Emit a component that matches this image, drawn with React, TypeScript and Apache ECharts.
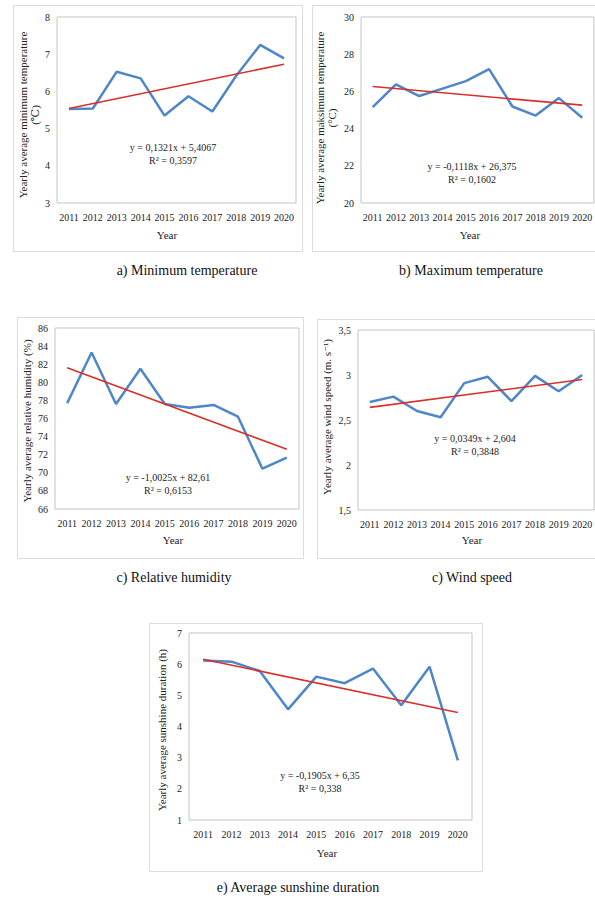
import React, { useEffect, useRef } from "react";
import * as echarts from "echarts";

const years = ["2011", "2012", "2013", "2014", "2015", "2016", "2017", "2018", "2019", "2020"];

const minTemp = [5.53, 5.54, 6.53, 6.35, 5.35, 5.87, 5.46, 6.42, 7.25, 6.89];
const maxTemp = [25.15, 26.38, 25.75, 26.15, 26.55, 27.2, 25.19, 24.7, 25.64, 24.58];
const humidity = [77.7, 83.3, 77.6, 81.5, 77.6, 77.2, 77.5, 76.2, 70.45, 71.67];
const wind = [2.7, 2.76, 2.6, 2.53, 2.91, 2.98, 2.71, 2.99, 2.82, 3.0];
const sunshine = [6.12, 6.08, 5.78, 4.55, 5.6, 5.39, 5.86, 4.68, 5.92, 2.91];

// trend line end values (2011, 2020)
const minTrend = [5.54, 6.73];
const maxTrend = [26.26, 25.26];
const humTrend = [81.6, 72.6];
const windTrend = [2.64, 2.95];
const sunTrend = [6.16, 4.45];

const FONT = "'Liberation Serif', 'Times New Roman', 'DejaVu Serif', serif";
const BLUE = "#4f86c9";
const RED = "#d8302a";

type Panel = {
  data: number[];
  trend: number[];
  min: number;
  max: number;
  interval: number;
  grid: { left: number; top: number; width: number; height: number };
  border: { x: number; y: number; w: number; h: number };
  yTitle: string[];
  yTitleX: number[];
  yTitleY: number;
  yearPos: [number, number];
  eq: string[];
  eqPos: [number, number];
  caption: string;
  capPos: [number, number];
};

const panels: Panel[] = [
  {
    data: minTemp, trend: minTrend, min: 3, max: 8, interval: 1,
    grid: { left: 57, top: 17, width: 239, height: 186 },
    border: { x: 13.5, y: 5.5, w: 289, h: 246 },
    yTitle: ["Yearly average minimum temperature", "(\u2103)"], yTitleX: [23, 35], yTitleY: 115,
    yearPos: [167, 235],
    eq: ["y = 0,1321x + 5,4067", "R\u00b2 = 0,3597"], eqPos: [173, 147],
    caption: "a) Minimum temperature", capPos: [187, 270],
  },
  {
    data: maxTemp, trend: maxTrend, min: 20, max: 30, interval: 2,
    grid: { left: 361, top: 17, width: 238, height: 186 },
    border: { x: 312.5, y: 5.5, w: 300, h: 246 },
    yTitle: ["Yearly average maksimum temperature", "(\u00b0C)"], yTitleX: [320, 332], yTitleY: 118,
    yearPos: [470, 235],
    eq: ["y = -0,1118x + 26,375", "R\u00b2 = 0,1602"], eqPos: [472, 166],
    caption: "b) Maximum temperature", capPos: [471, 270],
  },
  {
    data: humidity, trend: humTrend, min: 66, max: 86, interval: 2,
    grid: { left: 55, top: 328, width: 244, height: 181 },
    border: { x: 17.5, y: 317.5, w: 286, h: 241 },
    yTitle: ["Yearly average relative humidity (%)"], yTitleX: [27], yTitleY: 421,
    yearPos: [173, 540],
    eq: ["y = -1,0025x + 82,61", "R\u00b2 = 0,6153"], eqPos: [168, 477],
    caption: "c) Relative humidity", capPos: [174, 577],
  },
  {
    data: wind, trend: windTrend, min: 1.5, max: 3.5, interval: 0.5,
    grid: { left: 358, top: 330, width: 241, height: 180 },
    border: { x: 317.5, y: 319.5, w: 300, h: 239 },
    yTitle: ["Yearly average wind speed (m. s\u207b\u00b9)"], yTitleX: [327], yTitleY: 417,
    yearPos: [472, 540],
    eq: ["y = 0,0349x + 2,604", "R\u00b2 = 0,3848"], eqPos: [475, 438],
    caption: "c) Wind speed", capPos: [472, 577],
  },
  {
    data: sunshine, trend: sunTrend, min: 1, max: 7, interval: 1,
    grid: { left: 189, top: 633, width: 283, height: 187 },
    border: { x: 149.5, y: 623.5, w: 333, h: 248 },
    yTitle: ["Yearly average sunshine duration (h)"], yTitleX: [162], yTitleY: 730,
    yearPos: [327, 853],
    eq: ["y = -0,1905x + 6,35", "R\u00b2 = 0,338"], eqPos: [320, 775],
    caption: "e) Average sunshine duration", capPos: [298, 887],
  },
];

export default function App() {
  const ref = useRef<HTMLDivElement>(null);

  useEffect(() => {
    if (!ref.current) return;
    const chart = echarts.init(ref.current, null, { renderer: "svg" });

    const grids = panels.map((p) => ({
      ...p.grid,
      show: true,
      borderColor: "#c4c4c4",
      borderWidth: 1,
      backgroundColor: "transparent",
    }));

    const xAxis = panels.map((_, i) => ({
      type: "category",
      gridIndex: i,
      data: years,
      boundaryGap: true,
      axisLine: { show: false },
      axisTick: { show: false },
      axisLabel: { fontFamily: FONT, fontSize: 10, color: "#222", margin: 9, interval: 0 },
      splitLine: { show: false },
    }));

    const yAxis = panels.map((p, i) => ({
      type: "value",
      gridIndex: i,
      min: p.min,
      max: p.max,
      interval: p.interval,
      axisLine: { show: false },
      axisTick: { show: false },
      splitLine: { show: false },
      axisLabel: {
        fontFamily: FONT,
        fontSize: 10,
        color: "#222",
        margin: 7,
        formatter: (v: number) => String(v).replace(".", ","),
      },
    }));

    const series: any[] = [];
    panels.forEach((p, i) => {
      series.push({
        type: "line",
        xAxisIndex: i,
        yAxisIndex: i,
        data: p.data,
        showSymbol: false,
        symbol: "none",
        lineStyle: { color: BLUE, width: 2.5 },
        z: 2,
      });
      series.push({
        type: "line",
        xAxisIndex: i,
        yAxisIndex: i,
        data: [[years[0], p.trend[0]], [years[years.length - 1], p.trend[1]]],
        showSymbol: false,
        symbol: "none",
        lineStyle: { color: RED, width: 1.6 },
        z: 3,
      });
    });

    const graphics: any[] = [];
    panels.forEach((p) => {
      graphics.push({
        type: "rect",
        shape: { x: p.border.x, y: p.border.y, width: p.border.w, height: p.border.h },
        style: { fill: "none", stroke: "#dcdcdc", lineWidth: 1 },
        z: 0,
      });
      p.yTitle.forEach((t, k) => {
        graphics.push({
          type: "text",
          x: p.yTitleX[k],
          y: p.yTitleY,
          rotation: Math.PI / 2,
          style: {
            text: t,
            fontFamily: FONT,
            fontSize: 11,
            fill: "#222",
            align: "center",
            verticalAlign: "middle",
          },
        });
      });
      graphics.push({
        type: "text",
        x: p.yearPos[0],
        y: p.yearPos[1],
        style: { text: "Year", fontFamily: FONT, fontSize: 11, fill: "#222", align: "center", verticalAlign: "middle" },
      });
      p.eq.forEach((t, k) => {
        graphics.push({
          type: "text",
          x: p.eqPos[0],
          y: p.eqPos[1] + k * 13,
          style: { text: t, fontFamily: FONT, fontSize: 10, fill: "#222", align: "center", verticalAlign: "middle" },
          z: 10,
        });
      });
      graphics.push({
        type: "text",
        x: p.capPos[0],
        y: p.capPos[1],
        style: { text: p.caption, fontFamily: FONT, fontSize: 14, fill: "#111", align: "center", verticalAlign: "middle" },
      });
    });

    chart.setOption({
      animation: false,
      backgroundColor: "#ffffff",
      grid: grids,
      xAxis,
      yAxis,
      series,
      graphic: graphics,
    });

    return () => chart.dispose();
  }, []);

  return (
    <div
      ref={ref}
      style={{ position: "absolute", left: 0, top: 0, width: 595, height: 899, overflow: "hidden" }}
    />
  );
}
